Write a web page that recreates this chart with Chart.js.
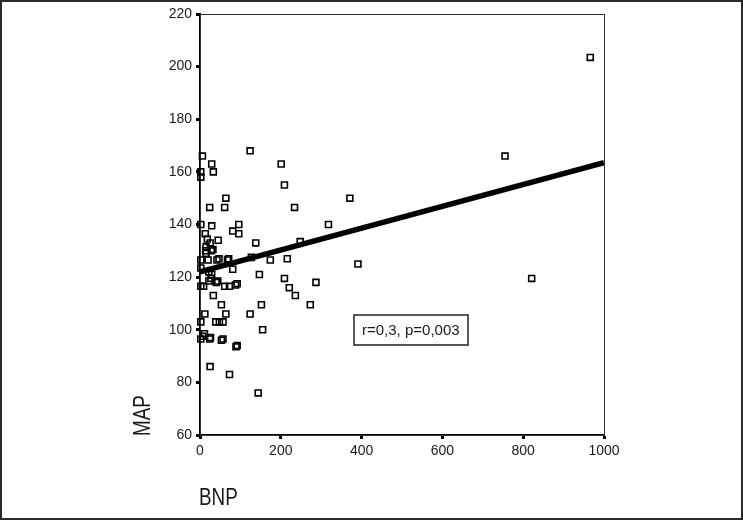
<!DOCTYPE html>
<html>
<head>
<meta charset="utf-8">
<title>BNP vs MAP</title>
<script src="https://cdn.jsdelivr.net/npm/chart.js@4.4.1/dist/chart.umd.min.js"></script>
<style>
    html, body { margin: 0; padding: 0; background: #fff; }
    #wrap { width: 743px; height: 520px; }
</style>
</head>
<body>
<div id="wrap"><canvas id="grafikBnp" width="743" height="520"></canvas></div>
<script>
// data (BNP on x, MAP on y)
const bnp = [966, 755, 821, 391, 371, 318, 287, 273, 248, 236, 234, 221, 216, 209, 209, 201, 174, 155, 152, 147,
    144, 138, 127, 124, 124, 96, 96, 89, 88, 81, 81, 73, 73, 68, 64, 61, 64, 61, 53, 53,
    45, 48, 39, 57, 42, 40, 33, 33, 29, 29, 28, 27, 25, 24, 24, 18, 20, 22, 15, 14,
    13, 12, 9, 7, 6, 2, 2, 2, 2, 2, 2, 2, 2, 25, 22, 15, 32, 47, 71, 29,
    44, 92, 11, 26, 57, 92];
const map = [203.5, 166, 119.5, 125, 150, 140, 118, 109.5, 133.5, 113, 146.5, 116, 127, 119.5, 155, 163, 126.5, 100, 109.5, 121,
    76, 133, 127.5, 106, 168, 140, 136.5, 93.5, 117, 137.5, 123, 83, 116.5, 126.5, 150, 146.5, 106, 116.5, 96, 109.5,
    134, 103, 103, 103, 126.5, 118, 113, 160, 163, 139.5, 130, 119.5, 86, 146.5, 96.5, 134.5, 126.5, 122, 131.5, 130,
    136.5, 106, 116.5, 97.5, 166, 160, 158, 140, 126.5, 123.5, 116.5, 103, 96.5, 133, 118.5, 129, 130.5, 127, 127, 121,
    118.5, 117.5, 98.5, 97, 96.5, 94];

// fitted line end points
const fitX = [0, 1000];
const fitY = [122, 163.5];

const xTicks = [0, 200, 400, 600, 800, 1000];
const yTicks = [60, 80, 100, 120, 140, 160, 180, 200, 220];

const statText = 'r=0,3, p=0,003';
const xTitle = 'BNP';
const yTitle = 'MAP';

const points = bnp.map(function (v, i) { return { x: v, y: map[i] }; });
const fitPoints = fitX.map(function (v, i) { return { x: v, y: fitY[i] }; });

const tickFont = { family: "'Liberation Sans', Arial, sans-serif", size: 14 };

// frame, stats box and axis titles
const extras = {
    id: 'extras',
    beforeDraw: function (chart) {
        const c = chart.ctx;
        c.save();
        c.fillStyle = '#fff';
        c.fillRect(0, 0, chart.width, chart.height);
        c.strokeStyle = '#2a2a2a';
        c.lineWidth = 2;
        c.strokeRect(1, 1, chart.width - 2, chart.height - 2);
        c.restore();
    },
    beforeDatasetsDraw: function (chart) {
        const a = chart.chartArea;
        const c = chart.ctx;
        c.save();
        c.strokeStyle = '#333';
        c.lineWidth = 1;
        c.strokeRect(a.left + 0.5, a.top + 0.5, a.right - a.left, a.bottom - a.top);
        c.restore();
    },
    afterDraw: function (chart) {
        const c = chart.ctx;
        c.save();
        // stats box
        c.font = "15px 'Liberation Sans', Arial, sans-serif";
        c.fillStyle = '#fff';
        c.fillRect(354, 315, 114, 30);
        c.strokeStyle = '#222';
        c.lineWidth = 1.5;
        c.strokeRect(354, 315, 114, 30);
        c.fillStyle = '#1a1a1a';
        c.textBaseline = 'middle';
        c.textAlign = 'left';
        c.fillText(statText, 362, 331);

        // axis titles, squeezed to look like a narrow face
        c.font = "23px 'Liberation Sans', Arial, sans-serif";
        c.textAlign = 'left';
        c.textBaseline = 'alphabetic';
        c.save();
        c.translate(199, 505);
        c.scale(0.82, 1);
        c.fillText(xTitle, 0, 0);
        c.restore();
        c.translate(150, 436);
        c.rotate(-Math.PI / 2);
        c.scale(0.82, 1);
        c.fillText(yTitle, 0, 0);
        c.restore();
    }
};

const ctx = document.getElementById('grafikBnp').getContext('2d');
new Chart(ctx, {
    data: {
        datasets: [{
            type: 'line',
            label: 'fit',
            data: fitPoints,
            borderColor: '#000',
            borderWidth: 5.5,
            pointRadius: 0,
            order: 0
        }, {
            type: 'scatter',
            label: 'MAP',
            data: points,
            pointStyle: 'rect',
            pointRadius: 4.2,
            pointBorderWidth: 1.6,
            borderColor: '#000',
            backgroundColor: 'rgba(255,255,255,0)',
            clip: false,
            order: 1
        }]
    },
    options: {
        responsive: false,
        animation: false,
        events: [],
        layout: { padding: { left: 160, top: 14, right: 139, bottom: 55 } },
        plugins: {
            legend: { display: false },
            tooltip: { enabled: false }
        },
        scales: {
            x: {
                type: 'linear',
                min: 0,
                max: 1000,
                afterFit: function (s) { s.height = 30; },
                afterBuildTicks: function (s) { s.ticks = xTicks.map(function (v) { return { value: v }; }); },
                ticks: {
                    font: tickFont, color: '#1a1a1a', padding: 4, autoSkip: false, maxRotation: 0,
                    callback: function (v) { return String(v); }
                },
                grid: { drawOnChartArea: false, tickLength: 4, tickWidth: 3, tickColor: '#000' },
                border: { color: '#000', width: 2 }
            },
            y: {
                type: 'linear',
                min: 60,
                max: 220,
                afterFit: function (s) { s.width = 40; },
                afterBuildTicks: function (s) { s.ticks = yTicks.map(function (v) { return { value: v }; }); },
                ticks: {
                    font: tickFont, color: '#1a1a1a', padding: 4, autoSkip: false,
                    callback: function (v) { return String(v); }
                },
                grid: { drawOnChartArea: false, tickLength: 4, tickWidth: 3, tickColor: '#000' },
                border: { color: '#000', width: 2 }
            }
        }
    },
    plugins: [extras]
});
</script>
</body>
</html>
